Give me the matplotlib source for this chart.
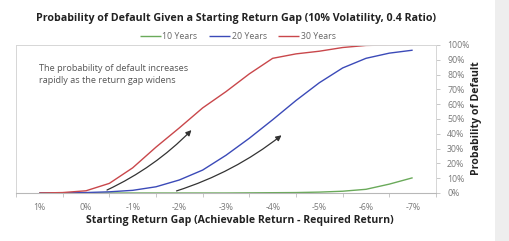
import numpy as np
import matplotlib
matplotlib.use("Agg")
import matplotlib.pyplot as plt
from matplotlib.patches import Rectangle

# starting return gap (%) at half-point steps
gap = [1, 0.5, 0, -0.5, -1, -1.5, -2, -2.5, -3, -3.5, -4, -4.5, -5, -5.5, -6, -6.5, -7]

# probability of default (%)
p_10y = [0, 0, 0, 0, 0, 0, 0, 0, 0, 0.1, 0.2, 0.3, 0.6, 1.2, 2.5, 6, 10.3]
p_20y = [0, 0, 0.3, 0.8, 1.8, 4.2, 8.8, 15.5, 25.5, 37, 49.5, 62.5, 74.5, 84.5, 91, 94.5, 96.5]
p_30y = [0, 0.3, 1.5, 6.5, 17, 31, 44, 57.5, 68.5, 80.5, 91, 94, 95.8, 98.3, 99.7, 100, 100]

series_names = ["10 Years", "20 Years", "30 Years"]
series_colors = ["#6aaa5a", "#3b4ab8", "#c9474b"]

x_ticks = [1, 0, -1, -2, -3, -4, -5, -6, -7]
y_ticks = list(range(0, 101, 10))

title = "Probability of Default Given a Starting Return Gap (10% Volatility, 0.4 Ratio)"
x_label = "Starting Return Gap (Achievable Return - Required Return)"
y_label = "Probability of Default"
note = "The probability of default increases\nrapidly as the return gap widens"

W, H = 509, 241
fig = plt.figure(figsize=(W / 100, H / 100), dpi=100)
fig.patch.set_facecolor("white")

# light gray page edge on the right
fig.patches.append(Rectangle((495 / W, 0), 14 / W, 1, transform=fig.transFigure,
                             facecolor="#eeeeee", edgecolor="none", zorder=0))

ax = fig.add_axes([16 / W, 1 - 193 / H, 420 / W, 148 / H])
font = "Open Sans"

for vals, name, col in zip([p_10y, p_20y, p_30y], series_names, series_colors):
    ax.plot(gap, vals, color=col, lw=1.0, label=name, solid_capstyle="butt")

ax.set_xlim(1.5, -7.5)
ax.set_ylim(0, 100)
ax.set_xticks(x_ticks)
ax.set_xticklabels(["{}%".format(v) for v in x_ticks])
ax.set_xticks(np.arange(1.5, -7.6, -1), minor=True)
ax.set_yticks(y_ticks)
ax.set_yticklabels(["{}%".format(v) for v in y_ticks])
ax.yaxis.tick_right()
ax.tick_params(axis="x", which="major", length=0, pad=7, labelsize=6.3, labelcolor="#7a7a7a")
ax.tick_params(axis="x", which="minor", length=3, color="#c8c8c8", width=0.7)
ax.tick_params(axis="y", length=3, color="#c8c8c8", width=0.7, pad=5,
               labelsize=6.3, labelcolor="#7a7a7a")
for lab in ax.get_xticklabels() + ax.get_yticklabels():
    lab.set_fontfamily(font)
for side in ["top", "right", "left"]:
    ax.spines[side].set_color("#d6d6d6")
    ax.spines[side].set_linewidth(0.7)
ax.spines["bottom"].set_color("#b8b8b8")
ax.spines["bottom"].set_linewidth(0.8)

# curved arrows
arrow_kw = dict(arrowstyle="-|>", color="#333333", lw=0.9, mutation_scale=8,
                connectionstyle="arc3,rad=0.09", shrinkA=0, shrinkB=0)
ax.annotate("", xy=(-2.26, 42.5), xytext=(-0.45, 2), arrowprops=arrow_kw)
ax.annotate("", xy=(-4.19, 39), xytext=(-1.94, 1.4), arrowprops=arrow_kw)

ax.text(1.0, 87, note, fontsize=6.6, color="#555555", family=font,
        va="top", ha="left", linespacing=1.35)

leg = ax.legend(loc="center", bbox_to_anchor=(0.528, 1.06), ncol=3, frameon=False,
                handlelength=2.4, handletextpad=0.2, columnspacing=1.3,
                borderaxespad=0, prop={"family": font, "size": 6.3})
for t in leg.get_texts():
    t.set_color("#666666")

fig.text(236 / W, 1 - 18 / H, title, ha="center", va="center", fontsize=7.7,
         fontweight="bold", color="#222222", family=font)
fig.text(240 / W, 1 - 220 / H, x_label, ha="center", va="center", fontsize=7.6,
         fontweight="bold", color="#222222", family=font)
fig.text(477 / W, 1 - 118 / H, y_label, ha="center", va="center", rotation=90,
         fontsize=7.6, fontweight="bold", color="#222222", family=font)

fig.savefig("out.png", dpi=100)
